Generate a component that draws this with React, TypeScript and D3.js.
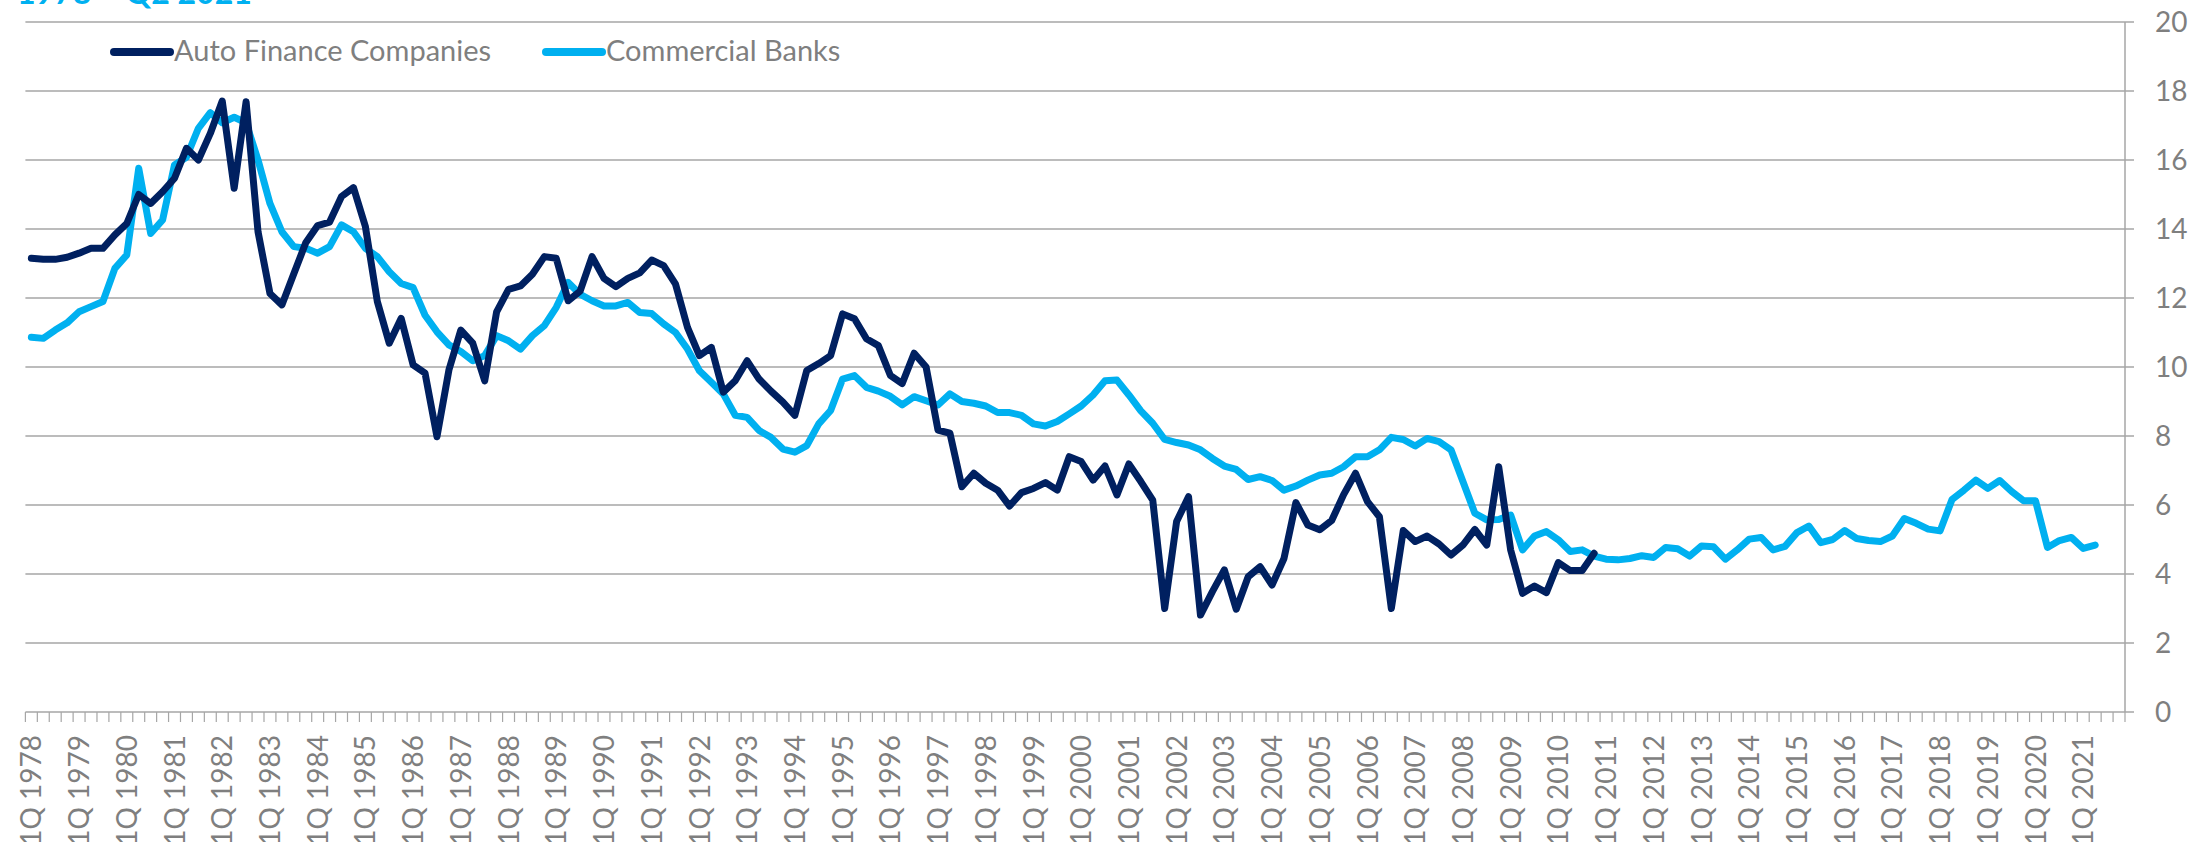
import React from "react";
import * as d3 from "d3";

const years: number[] = d3.range(1978, 2022);
const quarterNames: string[] = ["1Q", "2Q", "3Q", "4Q"];

// Auto Finance Companies, 1Q 1978 .. 4Q 2010
const autoFinance: number[] = [
  13.15, 13.12, 13.12, 13.18, 13.3, 13.44, 13.44, 13.83, 14.16, 15.0,
  14.74, 15.08, 15.47, 16.34, 16.0, 16.77, 17.71, 15.18, 17.69, 13.92,
  12.13, 11.8, 12.7, 13.6, 14.1, 14.2, 14.94, 15.2, 14.07, 11.9,
  10.69, 11.41, 10.06, 9.82, 7.98, 9.91, 11.07, 10.69, 9.6, 11.6,
  12.25, 12.35, 12.69, 13.2, 13.15, 11.92, 12.2, 13.2, 12.57, 12.33,
  12.57, 12.73, 13.1, 12.94, 12.4, 11.15, 10.33, 10.57, 9.27, 9.6,
  10.18, 9.65, 9.3, 8.98, 8.6, 9.9, 10.1, 10.33, 11.54, 11.4,
  10.82, 10.62, 9.76, 9.52, 10.4, 10.0, 8.17, 8.08, 6.53, 6.92,
  6.63, 6.43, 5.97, 6.36, 6.48, 6.65, 6.43, 7.4, 7.26, 6.72,
  7.13, 6.29, 7.19, 6.68, 6.14, 3.0, 5.52, 6.24, 2.81, 3.49,
  4.12, 2.98, 3.92, 4.21, 3.68, 4.45, 6.07, 5.42, 5.28, 5.55,
  6.3, 6.92, 6.1, 5.66, 3.0, 5.26, 4.94, 5.1, 4.87, 4.55,
  4.84, 5.29, 4.84, 7.11, 4.7, 3.44, 3.65, 3.46, 4.33, 4.1,
  4.1, 4.6,
];

// Commercial Banks, 1Q 1978 .. 2Q 2021
const commercialBanks: number[] = [
  10.86, 10.83, 11.07, 11.28, 11.6, 11.75, 11.9, 12.86, 13.25, 15.76,
  13.87, 14.26, 15.86, 16.08, 16.92, 17.37, 17.08, 17.24, 17.08, 16.0,
  14.74, 13.92, 13.49, 13.44, 13.3, 13.49, 14.12, 13.92, 13.44, 13.2,
  12.76, 12.42, 12.3, 11.5, 11.02, 10.64, 10.45, 10.18, 10.33, 10.91,
  10.76, 10.52, 10.91, 11.2, 11.73, 12.45, 12.11, 11.92, 11.77, 11.77,
  11.87, 11.58, 11.55, 11.25, 11.0, 10.52, 9.89, 9.56, 9.22, 8.6,
  8.54, 8.16, 7.96, 7.62, 7.53, 7.72, 8.35, 8.74, 9.65, 9.75,
  9.41, 9.3, 9.15, 8.9, 9.14, 9.02, 8.9, 9.22, 9.0, 8.95,
  8.87, 8.68, 8.68, 8.6, 8.35, 8.29, 8.42, 8.64, 8.87, 9.19,
  9.6, 9.62, 9.19, 8.73, 8.37, 7.9, 7.81, 7.74, 7.6, 7.35,
  7.13, 7.03, 6.74, 6.82, 6.71, 6.43, 6.55, 6.72, 6.87, 6.92,
  7.11, 7.4, 7.4, 7.6, 7.96, 7.9, 7.71, 7.93, 7.84, 7.6,
  6.68, 5.76, 5.57, 5.58, 5.71, 4.7, 5.1, 5.23, 4.99, 4.65,
  4.7, 4.52, 4.43, 4.41, 4.45, 4.53, 4.48, 4.77, 4.73, 4.52,
  4.81, 4.79, 4.43, 4.7, 5.01, 5.06, 4.7, 4.8, 5.2, 5.39,
  4.91, 5.0, 5.26, 5.03, 4.97, 4.94, 5.1, 5.61, 5.47, 5.3,
  5.25, 6.16, 6.43, 6.72, 6.48, 6.71, 6.39, 6.12, 6.12, 4.77,
  4.97, 5.06, 4.74, 4.84,
];

const yTicks: number[] = [0, 2, 4, 6, 8, 10, 12, 14, 16, 18, 20];
const seriesNames: string[] = ["Auto Finance Companies", "Commercial Banks"];
const titleText = "1978 \u2013 Q2 2021";

const quarters: string[] = years.flatMap((y) => quarterNames.map((q) => `${q} ${y}`));

const W = 2211;
const H = 842;
const FONT = "Lato, 'Open Sans', sans-serif";
const GRID = "#a6a6a6";
const TEXT = "#7f7f7f";
const DARK = "#002060";
const LIGHT = "#00b0f0";

export default function App() {
  const x = d3.scaleBand<string>().domain(quarters).range([25.4, 2125]).padding(0);
  const y = d3.scaleLinear().domain([0, 20]).range([712, 22]);
  const cx = (i: number) => (x(quarters[i]) as number) + x.bandwidth() / 2;

  const line = d3
    .line<number>()
    .x((_, i) => cx(i))
    .y((d) => y(d));

  const left = 25.4;
  const right = 2125;

  return (
    <svg
      width={W}
      height={H}
      style={{ position: "absolute", left: 0, top: 0, display: "block", background: "#fff" }}
      fontFamily={FONT}
    >
      {/* cut-off title */}
      <text x={17} y={4} fontSize={32} fontWeight={700} fill={LIGHT}>
        {titleText}
      </text>

      {/* gridlines + right axis ticks */}
      {yTicks.map((t) => (
        <g key={t}>
          {t > 0 && (
            <line x1={left} x2={right + 9} y1={y(t)} y2={y(t)} stroke={GRID} strokeWidth={1.5} />
          )}
          {t === 0 && (
            <line x1={right} x2={right + 9} y1={y(t)} y2={y(t)} stroke={GRID} strokeWidth={1.5} />
          )}
          <text x={2155} y={y(t)} dy="0.36em" fontSize={28} fill={TEXT}>
            {t}
          </text>
        </g>
      ))}
      <line x1={right} x2={right} y1={y(20)} y2={y(0)} stroke={GRID} strokeWidth={1.5} />

      {/* x axis */}
      <line x1={left} x2={right} y1={y(0)} y2={y(0)} stroke={GRID} strokeWidth={1.5} />
      {quarters.map((q, i) => (
        <line
          key={"t" + q}
          x1={x(q) as number}
          x2={x(q) as number}
          y1={y(0)}
          y2={y(0) + 10}
          stroke={GRID}
          strokeWidth={1.2}
        />
      ))}
      <line x1={right} x2={right} y1={y(0)} y2={y(0) + 10} stroke={GRID} strokeWidth={1.2} />
      {quarters.map((q, i) =>
        i % 4 === 0 ? (
          <text
            key={"l" + q}
            transform={`translate(${cx(i)},735) rotate(-90)`}
            textAnchor="end"
            dy="0.36em"
            fontSize={28}
            fill={TEXT}
          >
            {q}
          </text>
        ) : null
      )}

      {/* series */}
      <path
        d={line(commercialBanks) || ""}
        fill="none"
        stroke={LIGHT}
        strokeWidth={7}
        strokeLinejoin="round"
        strokeLinecap="round"
      />
      <path
        d={line(autoFinance) || ""}
        fill="none"
        stroke={DARK}
        strokeWidth={7}
        strokeLinejoin="round"
        strokeLinecap="round"
      />

      {/* legend */}
      <line x1={114} x2={170} y1={52} y2={52} stroke={DARK} strokeWidth={8} strokeLinecap="round" />
      <text x={174} y={61} fontSize={29} fill={TEXT}>
        {seriesNames[0]}
      </text>
      <line x1={546} x2={602} y1={52} y2={52} stroke={LIGHT} strokeWidth={8} strokeLinecap="round" />
      <text x={606} y={61} fontSize={29} fill={TEXT}>
        {seriesNames[1]}
      </text>
    </svg>
  );
}
